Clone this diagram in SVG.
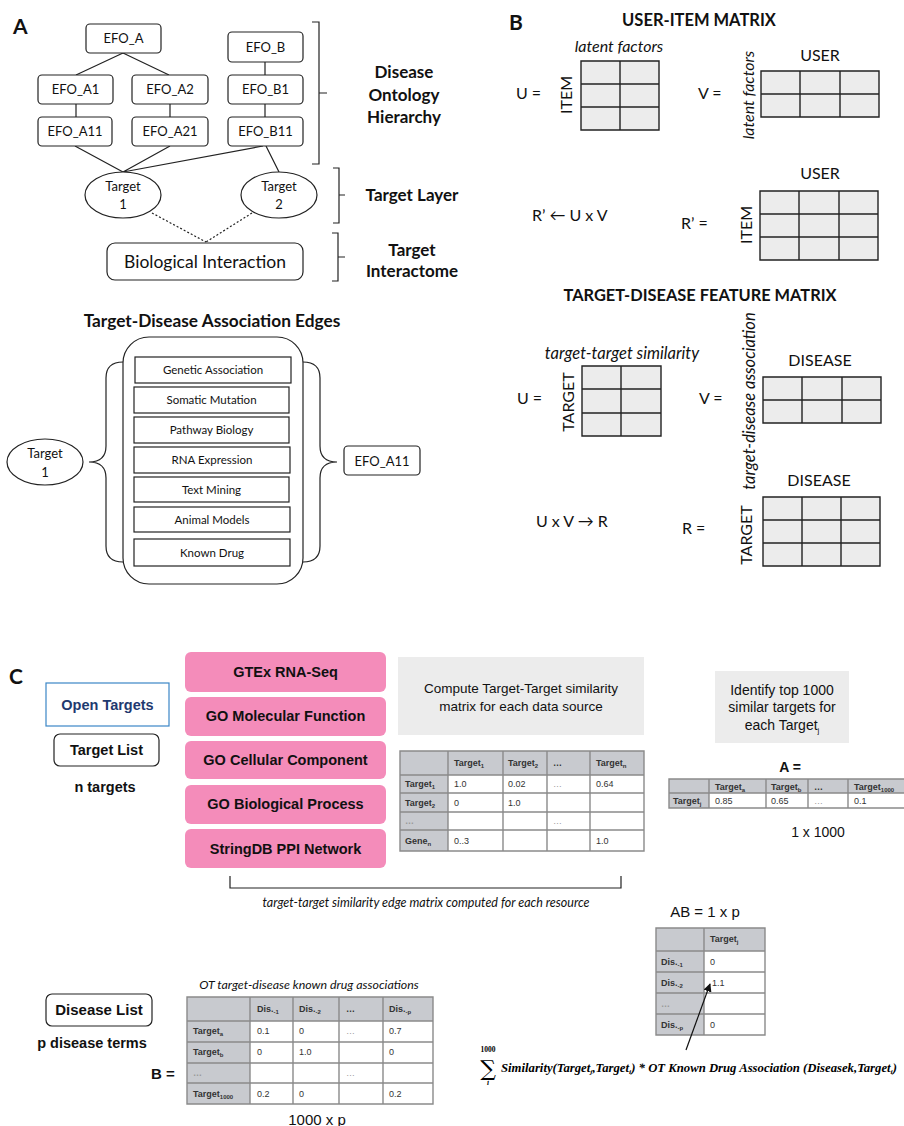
<svg xmlns="http://www.w3.org/2000/svg" width="904" height="1126" viewBox="0 0 904 1126">
<style>
.c{font-family:Lato,"Liberation Sans",sans-serif;fill:#111}
.a{font-family:"Liberation Sans",Arial,sans-serif;fill:#111}
.b{font-weight:bold}
.i{font-style:italic}
.m{text-anchor:middle}
.box{fill:#fff;stroke:#222;stroke-width:1.2}
.ln{fill:none;stroke:#222;stroke-width:1.2}
.mx{fill:#ececec;stroke:none}
.gl{fill:none;stroke:#222;stroke-width:1.4}
.pink{fill:#f48cba;stroke:none}
.gbox{fill:#ececec;stroke:none}
.th{fill:#c8cacf}
.td{fill:#fff}
.tb{fill:none;stroke:#8a8a8a;stroke-width:1.4}
.tt{font-family:"Liberation Sans",Arial,sans-serif;font-size:9px;fill:#333}
.tl{fill:#999}
</style>
<defs>
<marker id="ah" viewBox="0 0 10 10" refX="9" refY="5" markerWidth="7" markerHeight="7" orient="auto-start-reverse"><path d="M0,0 L10,5 L0,10 z" fill="#111"/></marker>
</defs>

<!-- Panel labels -->
<text class="c b" x="13" y="34" font-size="21">A</text>
<text class="c b" x="509" y="30" font-size="21">B</text>
<text class="c b" x="9" y="684" font-size="21">C</text>

<!-- Panel A connectors -->
<g id="connectors-A">
<path class="ln" d="M123,53 L76,75 M123,53 L169,75 M76,104 V117 M170,104 V117 M265,62 V75 M265,104 V117 M75,146 L123,172 M170,146 L123,172 M263,146 L123,172 M266,146 L279,172"/>
<path class="ln" stroke-dasharray="2,2" d="M152,213 L206,242 M252,213 L206,242"/>
</g>

<g id="efo_a"><rect class="box" x="86" y="24" width="75" height="29" rx="4"/><text class="c m" x="123.5" y="43" font-size="13">EFO_A</text></g>
<g id="efo_b"><rect class="box" x="228" y="32" width="75" height="30" rx="4"/><text class="c m" x="265.5" y="52" font-size="13">EFO_B</text></g>
<g id="efo_a1"><rect class="box" x="38" y="75" width="75" height="29" rx="4"/><text class="c m" x="75.5" y="94" font-size="13">EFO_A1</text></g>
<g id="efo_a2"><rect class="box" x="132" y="75" width="76" height="29" rx="4"/><text class="c m" x="170" y="94" font-size="13">EFO_A2</text></g>
<g id="efo_b1"><rect class="box" x="228" y="75" width="75" height="29" rx="4"/><text class="c m" x="265.5" y="94" font-size="13">EFO_B1</text></g>
<g id="efo_a11"><rect class="box" x="38" y="117" width="74" height="29" rx="4"/><text class="c m" x="75" y="136" font-size="13">EFO_A11</text></g>
<g id="efo_a21"><rect class="box" x="132" y="117" width="76" height="29" rx="4"/><text class="c m" x="170" y="136" font-size="13">EFO_A21</text></g>
<g id="efo_b11"><rect class="box" x="228" y="117" width="75" height="29" rx="4"/><text class="c m" x="265.5" y="136" font-size="13">EFO_B11</text></g>
<g id="target1"><ellipse class="box" cx="123" cy="195" rx="38" ry="23"/><text class="c m" x="123" y="191" font-size="13">Target</text><text class="c m" x="123" y="209" font-size="13">1</text></g>
<g id="target2"><ellipse class="box" cx="279" cy="195" rx="38" ry="23"/><text class="c m" x="279" y="191" font-size="13">Target</text><text class="c m" x="279" y="209" font-size="13">2</text></g>
<g id="bio"><rect class="box" x="107" y="243" width="196" height="37" rx="8"/><text class="c m" x="205" y="268" font-size="17.5">Biological Interaction</text></g>

<g id="brackets-A">
<path class="ln" stroke-width="1.5" d="M312,22 H319 V164 H312 M319,93 H327"/>
<path class="ln" stroke-width="1.5" d="M333,168 H339 V223 H333 M339,195 H345"/>
<path class="ln" stroke-width="1.5" d="M332,233 H338 V281 H332 M338,257 H345"/>
<text class="c b m" x="404" y="78" font-size="17">Disease</text>
<text class="c b m" x="404" y="101" font-size="17">Ontology</text>
<text class="c b m" x="404" y="123" font-size="17">Hierarchy</text>
<text class="c b m" x="412" y="201" font-size="17">Target Layer</text>
<text class="c b m" x="412" y="256" font-size="17">Target</text>
<text class="c b m" x="412" y="277" font-size="17">Interactome</text>
</g>

<!-- Panel A bottom -->
<text class="c b m" x="212" y="327" font-size="17.3">Target-Disease Association Edges</text>
<g id="edges">
<rect class="box" x="123" y="337" width="180" height="247" rx="26" stroke-width="1.4"/>
<rect class="box" x="135" y="357" width="156" height="26" stroke-width="1.6"/><text class="c m" x="213" y="374" font-size="11.5">Genetic Association</text>
<rect class="box" x="134" y="387" width="155" height="26" stroke-width="1.6"/><text class="c m" x="211.5" y="404" font-size="11.5">Somatic Mutation</text>
<rect class="box" x="134" y="417" width="155" height="26" stroke-width="1.6"/><text class="c m" x="211.5" y="434" font-size="11.5">Pathway Biology</text>
<rect class="box" x="134" y="447" width="156" height="26" stroke-width="1.6"/><text class="c m" x="212" y="464" font-size="11.5">RNA Expression</text>
<rect class="box" x="134" y="477" width="155" height="25" stroke-width="1.6"/><text class="c m" x="211.5" y="494" font-size="11.5">Text Mining</text>
<rect class="box" x="134" y="507" width="156" height="25" stroke-width="1.6"/><text class="c m" x="212" y="524" font-size="11.5">Animal Models</text>
<rect class="box" x="134" y="539" width="156" height="27" stroke-width="1.6"/><text class="c m" x="212" y="557" font-size="11.5">Known Drug</text>
</g>
<g id="braces">
<path class="ln" stroke-width="1.4" d="M123,362 Q106,362 106,378 V446 Q106,462 89,462 Q106,462 106,478 V546 Q106,562 123,562"/>
<path class="ln" stroke-width="1.4" d="M303,362 Q320,362 320,378 V446 Q320,462 337,462 Q320,462 320,478 V546 Q320,562 303,562"/>
</g>
<g id="target1b"><ellipse class="box" cx="45" cy="462" rx="38" ry="23"/><text class="c m" x="45" y="458" font-size="13">Target</text><text class="c m" x="45" y="477" font-size="13">1</text></g>
<g id="efo_a11b"><rect class="box" x="344" y="446" width="76" height="29" rx="4"/><text class="c m" x="382" y="466" font-size="13">EFO_A11</text></g>

<!-- Panel B -->
<g id="panelB-top">
<text class="c b m" x="699" y="26" font-size="16.5">USER-ITEM MATRIX</text>
<text class="c i m" x="619" y="52" font-size="16">latent factors</text>
<text class="c" x="516" y="99" font-size="16">U =</text>
<text class="c m" transform="translate(572,95) rotate(-90)" font-size="16">ITEM</text>
<rect class="mx" x="581" y="61" width="78" height="69"/>
<path class="gl" d="M581,61 H659 V130 H581 Z M620,61 V130 M581,84 H659 M581,107 H659"/>
<text class="c" x="698" y="99" font-size="16">V =</text>
<text class="c i m" transform="translate(754,95) rotate(-90)" font-size="16">latent factors</text>
<text class="c m" x="820" y="61" font-size="16">USER</text>
<rect class="mx" x="761" y="71" width="118" height="46"/>
<path class="gl" d="M761,71 H879 V117 H761 Z M800,71 V117 M840,71 V117 M761,94 H879"/>
<text class="c" x="532" y="221" font-size="16">R’ ← U x V</text>
<text class="c" x="681" y="229" font-size="16">R’ =</text>
<text class="c m" transform="translate(752,225) rotate(-90)" font-size="16">ITEM</text>
<text class="c m" x="820" y="179" font-size="16">USER</text>
<rect class="mx" x="760" y="191" width="118" height="69"/>
<path class="gl" d="M760,191 H878 V260 H760 Z M799,191 V260 M839,191 V260 M760,214 H878 M760,237 H878"/>
</g>
<g id="panelB-bottom">
<text class="c b m" x="700" y="301" font-size="16.4">TARGET-DISEASE FEATURE MATRIX</text>
<text class="c i m" x="622" y="359" font-size="16.5">target-target similarity</text>
<text class="c" x="517" y="404" font-size="16">U =</text>
<text class="c m" transform="translate(574,402) rotate(-90)" font-size="16">TARGET</text>
<text class="c" x="699" y="404" font-size="16">V =</text>
<text class="c i m" transform="translate(755,401) rotate(-90)" font-size="16.5">target-disease association</text>
<text class="c m" x="820" y="366" font-size="16">DISEASE</text>
<rect class="mx" x="582" y="366" width="79" height="70"/>
<path class="gl" d="M582,366 H661 V436 H582 Z M621,366 V436 M582,389 H661 M582,413 H661"/>
<rect class="mx" x="763" y="377" width="118" height="46"/>
<path class="gl" d="M763,377 H881 V423 H763 Z M802,377 V423 M842,377 V423 M763,400 H881"/>
<text class="c" x="536" y="527" font-size="16">U x V → R</text>
<text class="c" x="682" y="534" font-size="16">R  =</text>
<text class="c m" transform="translate(752,535) rotate(-90)" font-size="16">TARGET</text>
<text class="c m" x="819" y="486" font-size="16">DISEASE</text>
<rect class="mx" x="763" y="497" width="117" height="69"/>
<path class="gl" d="M763,497 H880 V566 H763 Z M802,497 V566 M841,497 V566 M763,520 H880 M763,543 H880"/>
</g>

<!-- Panel C -->
<g id="open-targets"><rect x="46" y="683" width="123" height="43" fill="#fff" stroke="#3b86c6" stroke-width="1.2"/><text class="a b m" x="107.5" y="710" font-size="14.5" style="fill:#1f3a70">Open Targets</text></g>
<g id="target-list"><rect class="box" x="54" y="734" width="105" height="32" rx="6"/><text class="a b m" x="106.5" y="755" font-size="14.5">Target List</text></g>
<text class="a b m" x="105" y="792" font-size="14.5">n targets</text>

<g id="sources">
<rect class="pink" x="185" y="652" width="201" height="40" rx="6"/><text class="a b m" x="285.5" y="677" font-size="14.5">GTEx RNA-Seq</text>
<rect class="pink" x="185" y="697" width="201" height="39" rx="6"/><text class="a b m" x="285.5" y="721" font-size="14.5">GO Molecular Function</text>
<rect class="pink" x="185" y="741" width="201" height="38" rx="6"/><text class="a b m" x="285.5" y="765" font-size="14.5">GO Cellular Component</text>
<rect class="pink" x="185" y="785" width="201" height="39" rx="6"/><text class="a b m" x="285.5" y="809" font-size="14.5">GO Biological Process</text>
<rect class="pink" x="185" y="829" width="201" height="39" rx="6"/><text class="a b m" x="285.5" y="854" font-size="14.5">StringDB PPI Network</text>
</g>
<path class="ln" d="M230,876 V888 H621 V876"/>
<text class="c i m" x="426" y="907" font-size="12.5">target-target similarity edge matrix computed for each resource</text>

<g id="compute"><rect class="gbox" x="398" y="657" width="246" height="78"/><text class="a m" x="521" y="693" font-size="13.5">Compute Target-Target similarity</text><text class="a m" x="521" y="711" font-size="13.5">matrix for each data source</text></g>

<g id="sim-table">
<rect class="td" x="400" y="751" width="244" height="100"/>
<rect class="th" x="400" y="751" width="244" height="24"/>
<rect class="th" x="400" y="751" width="48" height="100"/>
<path class="tb" d="M400,751 H644 V851 H400 Z M448,751 V851 M503,751 V851 M547,751 V851 M590,751 V851 M400,775 H644 M400,793 H644 M400,812 H644 M400,830 H644"/>
<text class="tt b" x="454" y="766">Target<tspan font-size="6" dy="2">1</tspan></text>
<text class="tt b" x="508" y="766">Target<tspan font-size="6" dy="2">2</tspan></text>
<text class="tt b" x="553" y="766">…</text>
<text class="tt b" x="596" y="766">Target<tspan font-size="6" dy="2">n</tspan></text>
<text class="tt b" x="405" y="787">Target<tspan font-size="6" dy="2">1</tspan></text>
<text class="tt" x="454" y="787">1.0</text><text class="tt" x="508" y="787">0.02</text><text class="tt tl" x="553" y="787">…</text><text class="tt" x="596" y="787">0.64</text>
<text class="tt b" x="405" y="806">Target<tspan font-size="6" dy="2">2</tspan></text>
<text class="tt" x="454" y="806">0</text><text class="tt" x="508" y="806">1.0</text>
<text class="tt b tl" x="405" y="824">…</text><text class="tt tl" x="553" y="824">…</text>
<text class="tt b" x="405" y="844">Gene<tspan font-size="6" dy="2">n</tspan></text>
<text class="tt" x="454" y="844">0..3</text><text class="tt" x="596" y="844">1.0</text>
</g>

<g id="identify"><rect class="gbox" x="715" y="671" width="134" height="72"/><text class="a m" x="782" y="695" font-size="14">Identify top 1000</text><text class="a m" x="782" y="712" font-size="14">similar targets for</text><text class="a m" x="782" y="730" font-size="14">each Target<tspan font-size="8" dy="3">j</tspan></text></g>
<text class="a b m" x="790" y="772" font-size="14">A =</text>
<g id="a-table">
<rect class="td" x="669" y="779" width="240" height="29"/>
<rect class="th" x="669" y="779" width="240" height="14"/>
<rect class="th" x="669" y="779" width="40" height="29"/>
<path class="tb" d="M909,779 H669 V808 H909 M709,779 V808 M766,779 V808 M808,779 V808 M848,779 V808 M669,793 H909"/>
<text class="tt b" x="715" y="790">Target<tspan font-size="6" dy="2">a</tspan></text>
<text class="tt b" x="771" y="790">Target<tspan font-size="6" dy="2">b</tspan></text>
<text class="tt b" x="814" y="790">…</text>
<text class="tt b" x="854" y="790">Target<tspan font-size="6" dy="2">1000</tspan></text>
<text class="tt b" x="673" y="804">Target<tspan font-size="6" dy="2">j</tspan></text>
<text class="tt" x="715" y="804">0.85</text><text class="tt" x="771" y="804">0.65</text><text class="tt tl" x="814" y="804">…</text><text class="tt" x="854" y="804">0.1</text>
</g>
<text class="a m" x="818" y="837" font-size="14">1 x 1000</text>

<text class="a m" x="705" y="917" font-size="15">AB = 1 x p</text>
<g id="ab-table">
<rect class="td" x="656" y="928" width="109" height="107"/>
<rect class="th" x="656" y="928" width="109" height="23"/>
<rect class="th" x="656" y="928" width="48" height="107"/>
<path class="tb" d="M656,928 H765 V1035 H656 Z M704,928 V1035 M656,951 H765 M656,972 H765 M656,993 H765 M656,1014 H765"/>
<text class="tt b" x="710" y="942">Target<tspan font-size="6" dy="2">j</tspan></text>
<text class="tt b" x="661" y="965">Dis.<tspan font-size="6" dy="2">-1</tspan></text><text class="tt" x="710" y="965">0</text>
<text class="tt b" x="661" y="986">Dis.<tspan font-size="6" dy="2">-2</tspan></text><text class="tt" x="712" y="986">1.1</text>
<text class="tt b tl" x="661" y="1007">…</text>
<text class="tt b" x="661" y="1028">Dis.<tspan font-size="6" dy="2">-p</tspan></text><text class="tt" x="710" y="1028">0</text>
</g>
<g id="connectors-C"><line x1="686" y1="1050" x2="710" y2="984" stroke="#111" stroke-width="1.2" marker-end="url(#ah)"/></g>

<g id="disease-list"><rect class="box" x="46" y="994" width="106" height="32" rx="6"/><text class="a b m" x="99" y="1015" font-size="15">Disease List</text></g>
<text class="a b m" x="92" y="1048" font-size="14.5">p disease terms</text>
<text class="c i m" x="309" y="989" font-size="12.4">OT target-disease known drug associations</text>
<text class="a b" x="151" y="1079" font-size="15">B =</text>
<g id="b-table">
<rect class="td" x="187" y="997" width="246" height="107"/>
<rect class="th" x="187" y="997" width="246" height="24"/>
<rect class="th" x="187" y="997" width="63" height="107"/>
<path class="tb" d="M187,997 H433 V1104 H187 Z M250,997 V1104 M293,997 V1104 M339,997 V1104 M383,997 V1104 M187,1021 H433 M187,1042 H433 M187,1063 H433 M187,1083 H433"/>
<text class="tt b" x="257" y="1012">Dis.<tspan font-size="6" dy="2">-1</tspan></text>
<text class="tt b" x="299" y="1012">Dis.<tspan font-size="6" dy="2">-2</tspan></text>
<text class="tt b" x="346" y="1012">…</text>
<text class="tt b" x="389" y="1012">Dis.<tspan font-size="6" dy="2">-p</tspan></text>
<text class="tt b" x="193" y="1034">Target<tspan font-size="6" dy="2">a</tspan></text>
<text class="tt" x="257" y="1034">0.1</text><text class="tt" x="299" y="1034">0</text><text class="tt tl" x="346" y="1034">…</text><text class="tt" x="389" y="1034">0.7</text>
<text class="tt b" x="193" y="1055">Target<tspan font-size="6" dy="2">b</tspan></text>
<text class="tt" x="257" y="1055">0</text><text class="tt" x="299" y="1055">1.0</text><text class="tt" x="389" y="1055">0</text>
<text class="tt b tl" x="193" y="1076">…</text><text class="tt tl" x="346" y="1076">…</text>
<text class="tt b" x="193" y="1097">Target<tspan font-size="6" dy="2">1000</tspan></text>
<text class="tt" x="257" y="1097">0.2</text><text class="tt" x="299" y="1097">0</text><text class="tt" x="389" y="1097">0.2</text>
</g>
<text class="a m" x="317" y="1125" font-size="15">1000 x p</text>

<g id="formula">
<text x="488" y="1052" font-family="'Liberation Serif',serif" font-weight="bold" font-size="7.5" text-anchor="middle">1000</text>
<text x="488" y="1076" font-family="'DejaVu Serif','Liberation Serif',serif" font-size="22" text-anchor="middle">∑</text>
<text x="488" y="1085" font-family="'Liberation Serif',serif" font-weight="bold" font-style="italic" font-size="7.5" text-anchor="middle">i</text>
<text x="501" y="1072" font-family="'Liberation Serif',serif" font-weight="bold" font-style="italic" font-size="11.5" textLength="396" lengthAdjust="spacingAndGlyphs">Similarity(Target<tspan font-size="7" dy="2">j</tspan><tspan dy="-2">,Target</tspan><tspan font-size="7" dy="2">i</tspan><tspan dy="-2">) * OT Known Drug Association (Diseasek,Target</tspan><tspan font-size="7" dy="2">i</tspan><tspan dy="-2">)</tspan></text>
</g>
</svg>
